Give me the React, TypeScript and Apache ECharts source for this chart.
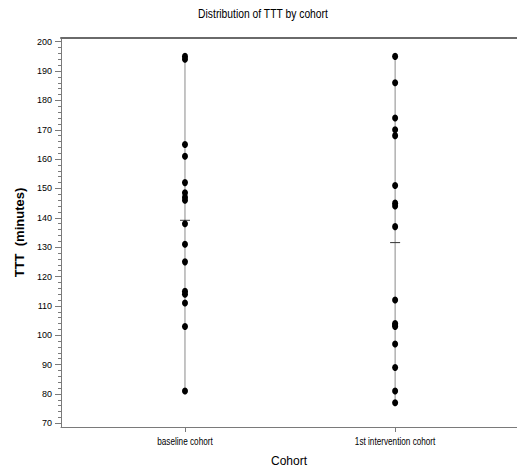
import React, { useEffect, useRef } from "react";
import * as echarts from "echarts";

const categories = ["baseline cohort", "1st intervention cohort"];
const categoryPositions = [1, 2];
const baselineValues = [195, 194, 165, 161, 152, 148.5, 147, 146, 138, 131, 125, 115, 114, 111, 103, 81];
const interventionValues = [195, 186, 174, 170, 168, 151, 145, 144, 137, 112, 104, 103.5, 103, 97, 89, 81, 77];
const yTickLabels = [70, 80, 90, 100, 110, 120, 130, 140, 150, 160, 170, 180, 190, 200];

const SANS = "'Liberation Sans', Arial, sans-serif";

function minorTicks(): number[] {
  const out: number[] = [];
  for (let v = yTickLabels[0]; v <= yTickLabels[yTickLabels.length - 1]; v += 2) {
    if (v % 10 !== 0) out.push(v);
  }
  return out;
}

const mean = (a: number[]) => a.reduce((s, v) => s + v, 0) / a.length;

export default function App() {
  const ref = useRef<HTMLDivElement>(null);
  useEffect(() => {
    document.body.style.margin = "0";
    if (!ref.current) return;
    const chart = echarts.init(ref.current, undefined, { renderer: "svg" });
    const groups = [baselineValues, interventionValues];
    const series: any[] = [];
    groups.forEach((vals, i) => {
      const x = categoryPositions[i];
      series.push({
        type: "line",
        xAxisIndex: 0,
        yAxisIndex: 0,
        data: [[x, Math.min(...vals)], [x, Math.max(...vals)]],
        showSymbol: false,
        symbol: "none",
        lineStyle: { color: "#8a8a8a", width: 1 },
        z: 1,
        silent: true,
      });
      series.push({
        type: "scatter",
        xAxisIndex: 0,
        yAxisIndex: 0,
        data: vals.map((v) => [x, v]),
        symbol: "circle",
        symbolSize: [6, 7],
        itemStyle: { color: "#000", opacity: 1 },
        z: 3,
        silent: true,
      });
      series.push({
        type: "scatter",
        xAxisIndex: 0,
        yAxisIndex: 0,
        data: [[x, mean(vals)]],
        symbol: "rect",
        symbolSize: [10, 1],
        itemStyle: { color: "#333", opacity: 1 },
        z: 2,
        silent: true,
      });
    });

    const xMin = 0.41;
    const xMax = 2.58;
    chart.setOption({
      animation: false,
      grid: { left: 61, top: 38, right: 0, bottom: 45, containLabel: false },
      xAxis: [
        {
          type: "value",
          position: "bottom",
          min: xMin,
          max: xMax,
          splitLine: { show: false },
          axisLine: { show: true, onZero: false, lineStyle: { color: "#7a7a7a", width: 1 } },
          axisTick: { show: true, inside: false, length: 5, customValues: categoryPositions, lineStyle: { color: "#7a7a7a" } },
          axisLabel: { show: false },
          name: "Cohort",
          nameLocation: "middle",
          nameGap: 28,
          nameTextStyle: { fontFamily: SANS, fontSize: 12, color: "#000" },
        },
        {
          type: "value",
          position: "top",
          min: xMin,
          max: xMax,
          splitLine: { show: false },
          axisLine: { show: true, onZero: false, lineStyle: { color: "#6a6a6a", width: 2 } },
          axisTick: { show: false },
          axisLabel: { show: false },
        },
      ],
      yAxis: [
        {
          type: "value",
          position: "left",
          min: 68.74,
          max: 201.26,
          splitLine: { show: false },
          axisLine: { show: true, onZero: false, lineStyle: { color: "#7a7a7a", width: 1 } },
          axisTick: { show: true, inside: false, length: 6, customValues: yTickLabels, lineStyle: { color: "#7a7a7a" } },
          axisLabel: {
            show: true,
            customValues: yTickLabels,
            fontFamily: SANS,
            fontSize: 9,
            color: "#000",
            margin: 9,
          },
          name: "TTT  (minutes)",
          nameLocation: "middle",
          nameGap: 35,
          nameRotate: 90,
          nameTextStyle: { fontFamily: SANS, fontSize: 13, fontWeight: "bold", color: "#000" },
        },
        {
          type: "value",
          position: "left",
          min: 68.74,
          max: 201.26,
          splitLine: { show: false },
          axisLine: { show: false },
          axisTick: { show: true, inside: false, length: 3, customValues: minorTicks(), lineStyle: { color: "#7a7a7a" } },
          axisLabel: { show: false },
        },
      ],
      series,
    });

    const labelY = 442;
    const catGraphics = categories.map((c, i) => {
      const px = chart.convertToPixel({ xAxisIndex: 0, yAxisIndex: 0 }, [categoryPositions[i], 100]) as number[];
      return {
        type: "text",
        x: px[0],
        y: labelY,
        scaleX: 0.82,
        style: {
          text: c,
          fontFamily: SANS,
          fontSize: 10,
          fill: "#000",
          align: "center",
          verticalAlign: "middle",
        },
      };
    });
    chart.setOption({
      graphic: [
        {
          type: "text",
          x: 263,
          y: 14,
          scaleX: 0.86,
          style: {
            text: "Distribution of TTT by cohort",
            fontFamily: SANS,
            fontSize: 12,
            fill: "#000",
            align: "center",
            verticalAlign: "middle",
          },
        },
        ...catGraphics,
      ],
    });
    return () => chart.dispose();
  }, []);
  return <div ref={ref} style={{ width: 517, height: 472 }} />;
}
